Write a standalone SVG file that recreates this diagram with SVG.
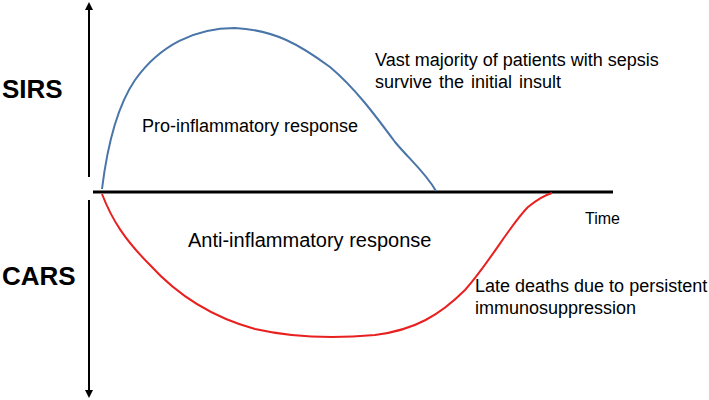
<svg xmlns="http://www.w3.org/2000/svg" width="709" height="400" viewBox="0 0 709 400">
<defs>
<marker id="ah" markerWidth="4" markerHeight="4" refX="2" refY="2" orient="auto" markerUnits="strokeWidth"><path d="M0,0 L4,2 L0,4 z" fill="#000"/></marker>
<style>
text{font-family:"Liberation Sans",Arial,sans-serif;fill:#000}
.big{font-size:26px;font-weight:bold}
.lbl{font-size:18px}
</style>
</defs>
<rect width="709" height="400" fill="#fff"/>
<g id="connectors">
<line id="yaxis-up" x1="89" y1="177" x2="89" y2="6" stroke="#000" stroke-width="2" marker-end="url(#ah)"/>
<line id="yaxis-down" x1="89" y1="200" x2="89" y2="394" stroke="#000" stroke-width="2" marker-end="url(#ah)"/>
<line id="xaxis" x1="93" y1="192" x2="613" y2="192" stroke="#000" stroke-width="3"/>
<path id="sirs-curve" d="M102,189 C108,140 118,105 135,80 C160,45 195,28 235,28 C275,30 300,45 330,67 C355,88 375,115 395,142 C410,160 425,172 436,191" fill="none" stroke="#4a75a8" stroke-width="2"/>
<path id="cars-curve" d="M102,194 C112,220 125,240 150,265 C180,298 215,318 255,329 C290,337 330,339 375,335 C415,330 440,315 465,290 C490,262 510,225 528,207 C538,199 545,195 552,193" fill="none" stroke="#e82020" stroke-width="2"/>
</g>
<g id="sirs"><text class="big" x="2" y="98">SIRS</text></g>
<g id="cars"><text class="big" x="2" y="285">CARS</text></g>
<g id="pro"><text class="lbl" x="142" y="132">Pro-inflammatory response</text></g>
<g id="anti"><text x="188" y="247" font-size="20">Anti-inflammatory response</text></g>
<g id="vast"><text class="lbl" x="375" y="66">Vast majority of patients with sepsis</text><text class="lbl" x="375" y="88" word-spacing="2">survive the initial insult</text></g>
<g id="time"><text x="585" y="224" font-size="16">Time</text></g>
<g id="late"><text class="lbl" x="475" y="292">Late deaths due to persistent</text><text class="lbl" x="475" y="314">immunosuppression</text></g>
</svg>
